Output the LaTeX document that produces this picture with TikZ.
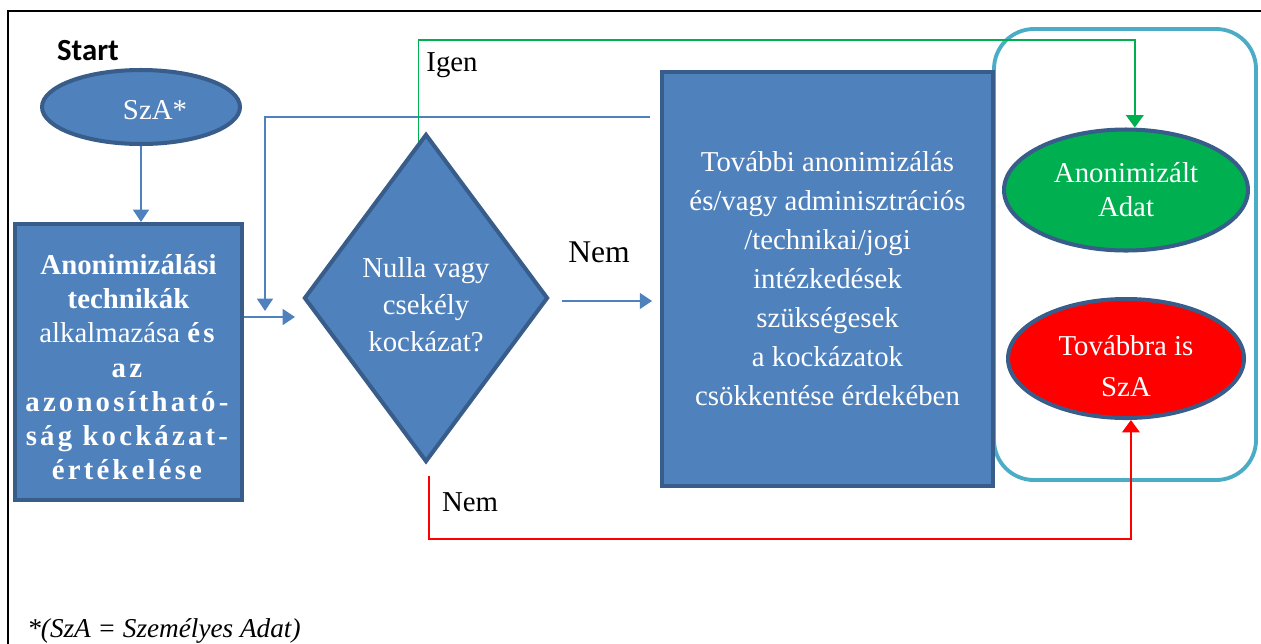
\documentclass[tikz,border=0pt]{standalone}
\usepackage{fontspec}
\setmainfont{Liberation Serif}
\newfontfamily\startfont{Carlito}
\usetikzlibrary{shapes.geometric,arrows.meta,calc}

\definecolor{boxblue}{HTML}{4F81BD}
\definecolor{edgeblue}{HTML}{385D8A}
\definecolor{okgreen}{HTML}{00B050}
\definecolor{groupteal}{HTML}{4BACC6}

\newcommand{\spaced}[1]{{\addfontfeature{LetterSpace=11}#1}}

\begin{document}
\begin{tikzpicture}[x=0.02cm, y=-0.02cm,
	bluebox/.style={draw=edgeblue, line width=2.3pt, fill=boxblue, text=white,
		inner sep=0pt, align=center},
	endstate/.style={ellipse, draw=edgeblue, line width=2.3pt, text=white,
		inner sep=0pt, align=center},
	inside/.style={text=white, align=center},
	flow/.style={draw=boxblue, line width=1.1pt, -{Triangle[width=9pt,length=7pt]}},
	yesline/.style={draw=okgreen, line width=0.9pt, -{Triangle[width=10pt,length=7pt]}},
	noline/.style={draw=red, line width=0.9pt, -{Triangle[width=10pt,length=7pt]}},
	txt/.style={font=\fontsize{16.4}{22}\selectfont}]

	\useasboundingbox (0,0) rectangle (1261,643);

	% Frame of the page
	\draw[line width=0.9pt] (8,700) -- (8,11) -- (1300,11);

	% Start
	\node[font=\startfont\bfseries\fontsize{17.5}{20}\selectfont] (start) at (88,51) {Start};
	\node[endstate, fill=boxblue, minimum width=3.96cm, minimum height=1.48cm,
		label={[inside, txt, xshift=0.28cm, yshift=-0.06cm]center:SzA*}] (sza) at (141,107) {};

	% Techniques
	\node[bluebox, minimum width=4.54cm, minimum height=5.52cm,
		label={[inside, yshift=-3pt, font=\fontsize{16.4}{19.5}\selectfont]center:{%
		\textbf{Anonimizálási}\\ \textbf{technikák}\\ alkalmazása \textbf{\spaced{és}}\\
		\textbf{\spaced{az}}\\ \textbf{\spaced{azonosítható-}}\\
		\textbf{\spaced{ság kockázat-}}\\ \textbf{\spaced{értékelése}}}}] (tech) at (128.5,362) {};

	% Decision
	\node[bluebox, diamond, minimum width=4.88cm, minimum height=6.56cm,
		label={[inside, yshift=-4pt, font=\fontsize{16.4}{21}\selectfont]center:{%
		Nulla vagy\\ csekély\\ kockázat?}}] (dec) at (426,298) {};

	% Group of the end states
	\draw[groupteal, line width=2.2pt, rounded corners=0.8cm] (994,29) rectangle (1256,480);

	% Further measures
	\node[bluebox, minimum width=6.62cm, minimum height=8.28cm,
		font=\fontsize{16.4}{22.2}\selectfont] (further) at (827.5,279)
		{További anonimizálás\\ és/vagy adminisztrációs\\ /technikai/jogi\\ intézkedések\\
		 szükségesek\\ a kockázatok\\ csökkentése érdekében};

	% End states
	\node[endstate, fill=okgreen, minimum width=4.88cm, minimum height=2.42cm,
		font=\fontsize{16.4}{19.3}\selectfont] (okdata) at (1126,190) {Anonimizált\\ Adat};
	\node[endstate, fill=red, minimum width=4.72cm, minimum height=2.38cm,
		label={[inside, yshift=-4.3pt, font=\fontsize{16.4}{23.8}\selectfont]center:{%
		Továbbra is\\ SzA}}] (still) at (1126,358.5) {};

	% Connectors
	\coordinate (inD) at ($(dec.west)+(-7,19)$);
	\coordinate (fbout) at (650,117);
	\coordinate (fbin) at (265,311);
	\coordinate (nemout) at ($(dec.east)+(12,3)$);
	\coordinate (gstart) at ($(dec.north)!0.06!(dec.west)$);
	\coordinate (rstart) at ($(dec.south)+(3,12)$);

	\draw[flow] (sza.south) -- (sza.south |- tech.north);
	\draw[flow] (tech.east |- inD) -- (inD);
	\draw[flow] (fbout) -| (fbin);
	\draw[flow] (nemout) -- ([xshift=-4.5pt]further.west |- nemout);
	\draw[yesline] (gstart) -- (gstart |- 0,40) -| ([xshift=5pt]okdata.north);
	\draw[noline] (rstart) -- ++(0,63) -| ([xshift=2.8pt]still.south);

	% Labels
	\node[txt] (igen) at (452,65) {Igen};
	\node[font=\fontsize{18}{20}\selectfont] (nem) at (599,252) {Nem};
	\node[txt] (nemb) at (470,502) {Nem};
	\node[anchor=base west, inner sep=0pt, font=\itshape\fontsize{15.5}{18}\selectfont] (note)
		at (27,637) {*(SzA = Személyes Adat)};

\end{tikzpicture}
\end{document}
